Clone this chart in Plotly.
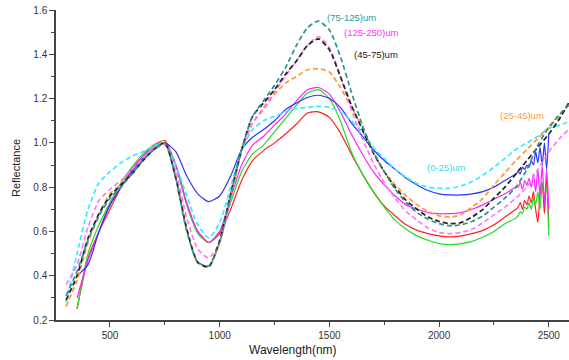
import plotly.graph_objects as go

# ---------------- data ----------------
WL_MAIN = [350, 400, 450, 500, 550, 600, 650, 700, 750, 800, 850, 900, 950, 1000,
           1050, 1100, 1150, 1200, 1250, 1300, 1350, 1400, 1450, 1500, 1550, 1600,
           1650, 1700, 1750, 1800, 1850, 1900, 1950, 2000, 2050, 2100, 2150, 2200,
           2250, 2300, 2350]
WL_NOISE = [2360, 2370, 2380, 2390, 2400, 2410, 2420, 2430, 2440, 2450, 2460, 2470,
            2480, 2490, 2500]
WL_SOLID = WL_MAIN + WL_NOISE
WL_DASH = [300] + WL_MAIN + [2400, 2450, 2500, 2550, 2590]

red_solid = [0.25, 0.48, 0.60, 0.70, 0.80, 0.88, 0.94, 0.99, 1.01, 0.90, 0.72, 0.60, 0.55, 0.59,
             0.70, 0.83, 0.92, 0.965, 1.00, 1.04, 1.085, 1.135, 1.14, 1.115, 1.045, 0.95,
             0.86, 0.78, 0.715, 0.67, 0.63, 0.605, 0.59, 0.58, 0.575, 0.58, 0.59, 0.605,
             0.63, 0.665, 0.70,
             0.71, 0.73, 0.70, 0.74, 0.72, 0.76, 0.73, 0.78, 0.70, 0.64, 0.77, 0.82,
             0.68, 0.85, 0.62]
green_solid = [0.25, 0.50, 0.63, 0.73, 0.82, 0.89, 0.95, 0.99, 1.00, 0.90, 0.72, 0.59, 0.55, 0.60,
               0.73, 0.87, 0.95, 0.99, 1.05, 1.11, 1.17, 1.225, 1.24, 1.20, 1.10, 0.96,
               0.86, 0.78, 0.71, 0.65, 0.61, 0.58, 0.56, 0.545, 0.54, 0.545, 0.555, 0.575,
               0.60, 0.635, 0.66,
               0.67, 0.69, 0.68, 0.71, 0.70, 0.73, 0.70, 0.75, 0.72, 0.78, 0.70, 0.82,
               0.75, 0.80, 0.58]
magenta_solid = [0.30, 0.47, 0.60, 0.72, 0.80, 0.88, 0.94, 0.98, 1.00, 0.90, 0.73, 0.60, 0.55, 0.60,
                 0.75, 0.90, 0.99, 1.03, 1.08, 1.13, 1.19, 1.24, 1.25, 1.22, 1.14, 1.04,
                 0.95, 0.87, 0.81, 0.76, 0.72, 0.70, 0.685, 0.68, 0.68, 0.685, 0.70, 0.72,
                 0.745, 0.77, 0.80,
                 0.80, 0.82, 0.79, 0.83, 0.81, 0.84, 0.80, 0.86, 0.78, 0.88, 0.76, 0.90,
                 0.72, 0.88, 0.70]
blue_solid = [0.40, 0.45, 0.60, 0.72, 0.80, 0.87, 0.93, 0.97, 1.00, 0.96, 0.85, 0.77, 0.735, 0.76,
              0.85, 0.97, 1.025, 1.06, 1.10, 1.15, 1.18, 1.205, 1.215, 1.20, 1.16, 1.09,
              1.03, 0.97, 0.92, 0.88, 0.84, 0.81, 0.785, 0.77, 0.765, 0.765, 0.77, 0.78,
              0.80, 0.83, 0.86,
              0.87, 0.86, 0.89, 0.88, 0.90, 0.89, 0.92, 0.90, 0.96, 0.91, 0.98, 0.90,
              1.00, 0.88, 1.04]

cyan_dash = [0.28, 0.50, 0.70, 0.82, 0.87, 0.91, 0.94, 0.96, 0.985, 1.00, 0.90, 0.76, 0.63, 0.57,
             0.64, 0.80, 0.97, 1.06, 1.10, 1.12, 1.14, 1.155, 1.16, 1.165, 1.16, 1.14,
             1.10, 1.05, 0.98, 0.93, 0.88, 0.845, 0.815, 0.80, 0.795, 0.795, 0.805, 0.825,
             0.855, 0.89, 0.93, 0.97,
             1.00, 1.03, 1.065, 1.08, 1.095]
orange_dash = [0.26, 0.38, 0.55, 0.68, 0.77, 0.81, 0.86, 0.92, 0.97, 1.00, 0.85, 0.61, 0.46, 0.44,
               0.55, 0.77, 0.97, 1.09, 1.15, 1.22, 1.27, 1.30, 1.33, 1.335, 1.32, 1.25,
               1.16, 1.07, 0.96, 0.87, 0.81, 0.76, 0.72, 0.69, 0.67, 0.665, 0.675, 0.71,
               0.75, 0.81, 0.865, 0.92,
               0.97, 1.02, 1.07, 1.12, 1.17]
black_dash = [0.29, 0.40, 0.57, 0.68, 0.76, 0.81, 0.86, 0.92, 0.97, 1.00, 0.84, 0.61, 0.46, 0.44,
              0.56, 0.77, 0.97, 1.12, 1.18, 1.24, 1.31, 1.37, 1.44, 1.47, 1.42, 1.30,
              1.17, 1.06, 0.955, 0.87, 0.80, 0.74, 0.70, 0.665, 0.645, 0.635, 0.64, 0.665,
              0.70, 0.75, 0.80, 0.86,
              0.92, 0.98, 1.04, 1.11, 1.18]
teal_dash = [0.31, 0.42, 0.56, 0.67, 0.75, 0.80, 0.86, 0.92, 0.97, 1.00, 0.84, 0.60, 0.46, 0.445,
             0.55, 0.76, 0.97, 1.12, 1.19, 1.26, 1.34, 1.44, 1.52, 1.55, 1.51, 1.39,
             1.23, 1.08, 0.96, 0.87, 0.79, 0.73, 0.685, 0.655, 0.635, 0.625, 0.63, 0.645,
             0.67, 0.71, 0.75, 0.80,
             0.88, 0.99, 1.07, 1.13, 1.17]
pink_dash = [0.36, 0.45, 0.62, 0.74, 0.79, 0.83, 0.88, 0.93, 0.97, 0.99, 0.87, 0.66, 0.52, 0.48,
             0.55, 0.75, 0.96, 1.09, 1.16, 1.23, 1.30, 1.37, 1.44, 1.48, 1.43, 1.30,
             1.15, 1.02, 0.91, 0.82, 0.75, 0.69, 0.65, 0.615, 0.595, 0.59, 0.595, 0.61,
             0.64, 0.675, 0.71, 0.75,
             0.80, 0.88, 0.96, 1.02, 1.06]

LABELS = ["(75-125)um", "(125-250)um", "(45-75)um", "(25-45)um", "(0-25)um"]
LABEL_X = [1480, 1557, 1603, 2269, 1936]
LABEL_Y = [1.568, 1.50, 1.40, 1.125, 0.89]
LABEL_COLORS = ["#2e9a9a", "#ff33ff", "#222222", "#ff9933", "#33ddee"]

X_TICKS = [500, 1000, 1500, 2000, 2500]
Y_TICKS = [0.2, 0.4, 0.6, 0.8, 1.0, 1.2, 1.4, 1.6]

# ---------------- figure ----------------
fig = go.Figure()

solid = [(red_solid, "#ff2020"), (green_solid, "#22dd22"),
         (magenta_solid, "#ff22ff"), (blue_solid, "#3030ff")]
for ys, col in solid:
    fig.add_trace(go.Scatter(x=WL_SOLID, y=ys, mode="lines",
                             line=dict(color=col, width=1.2, shape="spline", smoothing=0.6),
                             showlegend=False))

dashed = [(cyan_dash, "#33eeff"), (orange_dash, "#ff9933"), (pink_dash, "#ff77ff"),
          (black_dash, "#222222"), (teal_dash, "#2e9090")]
for ys, col in dashed:
    fig.add_trace(go.Scatter(x=WL_DASH, y=ys, mode="lines",
                             line=dict(color=col, width=1.7, dash="5px,3px",
                                       shape="spline", smoothing=0.6),
                             showlegend=False))

for t, x, y, c in zip(LABELS, LABEL_X, LABEL_Y, LABEL_COLORS):
    fig.add_annotation(x=x, y=y, text=t, showarrow=False, xanchor="left", yanchor="middle",
                       font=dict(size=9.5, color=c, family="Liberation Sans, Arial"))

fig.add_annotation(xref="paper", yref="paper", x=(293 - 56) / 513, y=-30 / 310,
                   text="Wavelength(nm)", showarrow=False, xanchor="center", yanchor="middle",
                   font=dict(size=12, color="#222", family="Liberation Sans, Arial"))
fig.add_annotation(xref="paper", yref="paper", x=-40 / 513, y=(320 - 168) / 310,
                   text="Reflectance", showarrow=False, textangle=-90,
                   xanchor="center", yanchor="middle",
                   font=dict(size=11, color="#222", family="Liberation Sans, Arial"))

axis_common = dict(showgrid=False, zeroline=False, showline=True, linecolor="#444",
                   linewidth=1.5, ticks="outside", ticklen=5, tickwidth=1.2, tickcolor="#444",
                   automargin=False, ticklabeloverflow="allow",
                   tickfont=dict(size=10, color="#333", family="Liberation Sans, Arial"))

fig.update_xaxes(range=[254, 2592], tickvals=X_TICKS,
                 minor=dict(ticks="outside", ticklen=3, tickcolor="#444", dtick=250, tick0=250),
                 **axis_common)
fig.update_yaxes(range=[0.2, 1.6], tickvals=Y_TICKS, ticktext=[f"{v:.1f}" for v in Y_TICKS],
                 minor=dict(ticks="outside", ticklen=3, tickcolor="#444", dtick=0.1, tick0=0.2),
                 **axis_common)

fig.update_layout(width=569, height=360, margin=dict(l=56, r=0, t=10, b=40),
                  plot_bgcolor="white", paper_bgcolor="white")

# remove the default 8px page margin so the figure sits at the window's top-left corner
fig.write_html("out.html", config={"displayModeBar": False},
               post_script="document.body.style.margin='0';document.body.style.overflow='hidden';")
